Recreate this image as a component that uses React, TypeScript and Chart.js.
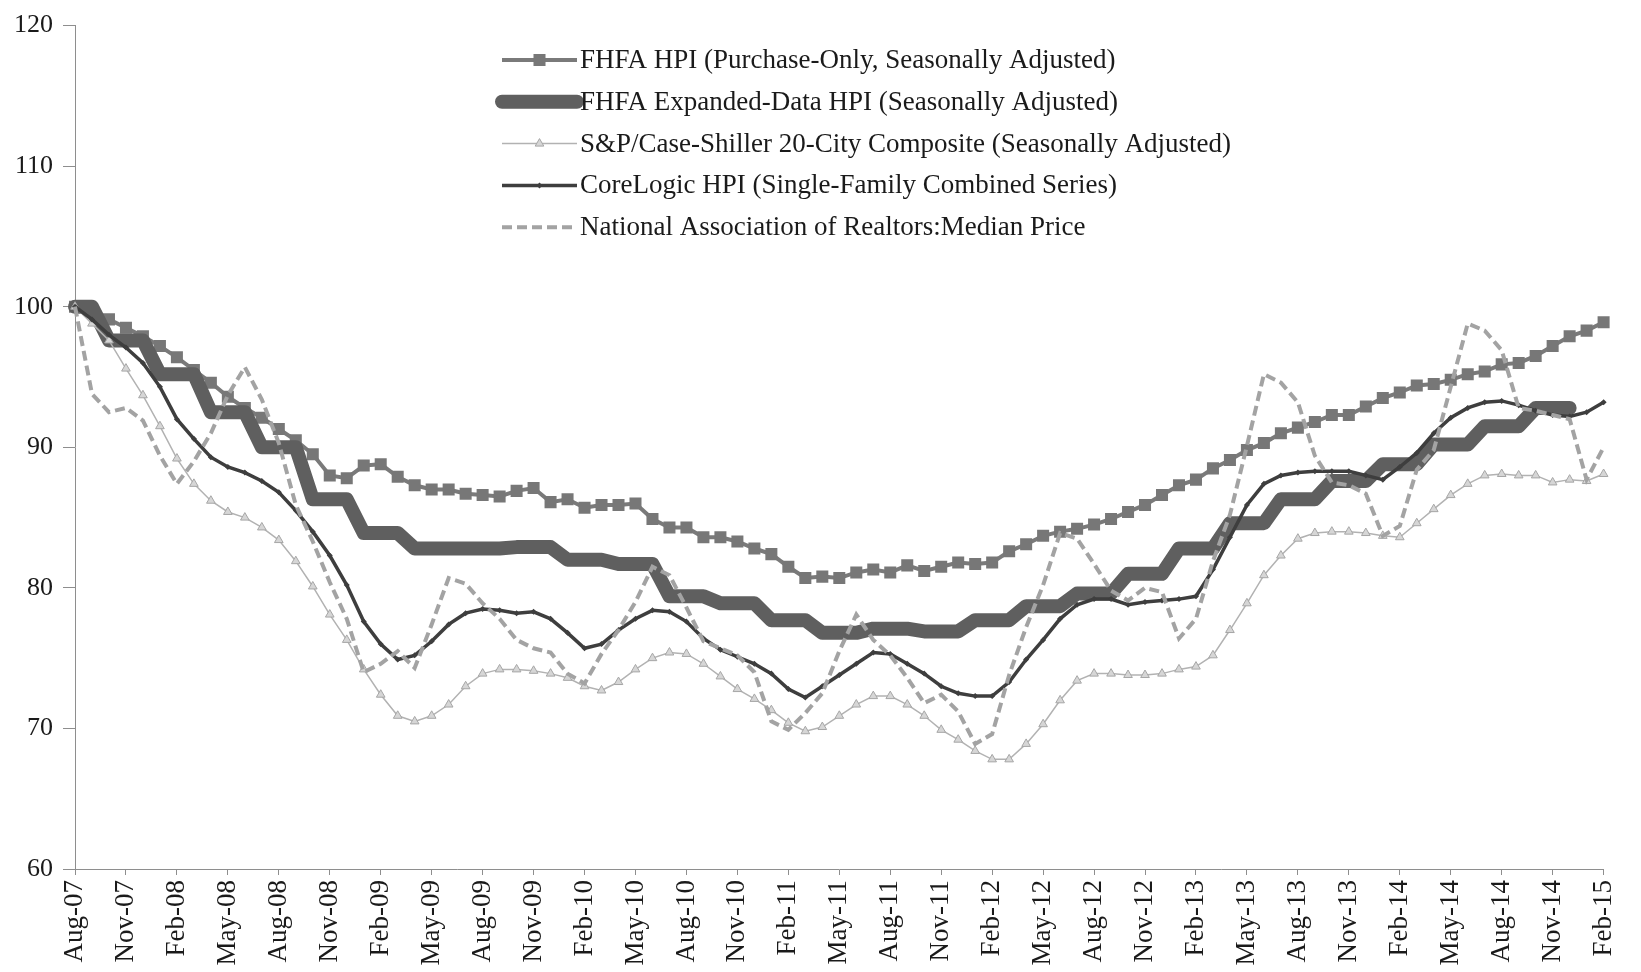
import React, { useEffect, useRef } from "react";
import { Chart, registerables } from "chart.js";

Chart.register(...registerables);

const months = [
  "Aug-07", "Sep-07", "Oct-07", "Nov-07", "Dec-07",
  "Jan-08", "Feb-08", "Mar-08", "Apr-08", "May-08", "Jun-08", "Jul-08", "Aug-08", "Sep-08", "Oct-08", "Nov-08", "Dec-08",
  "Jan-09", "Feb-09", "Mar-09", "Apr-09", "May-09", "Jun-09", "Jul-09", "Aug-09", "Sep-09", "Oct-09", "Nov-09", "Dec-09",
  "Jan-10", "Feb-10", "Mar-10", "Apr-10", "May-10", "Jun-10", "Jul-10", "Aug-10", "Sep-10", "Oct-10", "Nov-10", "Dec-10",
  "Jan-11", "Feb-11", "Mar-11", "Apr-11", "May-11", "Jun-11", "Jul-11", "Aug-11", "Sep-11", "Oct-11", "Nov-11", "Dec-11",
  "Jan-12", "Feb-12", "Mar-12", "Apr-12", "May-12", "Jun-12", "Jul-12", "Aug-12", "Sep-12", "Oct-12", "Nov-12", "Dec-12",
  "Jan-13", "Feb-13", "Mar-13", "Apr-13", "May-13", "Jun-13", "Jul-13", "Aug-13", "Sep-13", "Oct-13", "Nov-13", "Dec-13",
  "Jan-14", "Feb-14", "Mar-14", "Apr-14", "May-14", "Jun-14", "Jul-14", "Aug-14", "Sep-14", "Oct-14", "Nov-14", "Dec-14",
  "Jan-15", "Feb-15",
];

const fhfaPurchaseOnly = [
  100.0, 99.7, 99.1, 98.5, 97.9, 97.2, 96.4, 95.5, 94.6, 93.6,
  92.8, 92.1, 91.3, 90.5, 89.5, 88.0, 87.8, 88.7, 88.8, 87.9,
  87.3, 87.0, 87.0, 86.7, 86.6, 86.5, 86.9, 87.1, 86.1, 86.3,
  85.7, 85.9, 85.9, 86.0, 84.9, 84.3, 84.3, 83.6, 83.6, 83.3,
  82.8, 82.4, 81.5, 80.7, 80.8, 80.7, 81.1, 81.3, 81.1, 81.6,
  81.2, 81.5, 81.8, 81.7, 81.8, 82.6, 83.1, 83.7, 84.0, 84.2,
  84.5, 84.9, 85.4, 85.9, 86.6, 87.3, 87.7, 88.5, 89.1, 89.8,
  90.3, 91.0, 91.4, 91.8, 92.3, 92.3, 92.9, 93.5, 93.9, 94.4,
  94.5, 94.8, 95.2, 95.4, 95.9, 96.0, 96.5, 97.2, 97.9, 98.3,
  98.9,
];

const fhfaExpanded = [
  100.0, 100.0, 97.6, 97.6, 97.6, 95.2, 95.2, 95.2, 92.5, 92.5,
  92.5, 90.0, 90.0, 90.0, 86.3, 86.3, 86.3, 83.9, 83.9, 83.9,
  82.8, 82.8, 82.8, 82.8, 82.8, 82.8, 82.9, 82.9, 82.9, 82.0,
  82.0, 82.0, 81.7, 81.7, 81.7, 79.4, 79.4, 79.4, 78.9, 78.9,
  78.9, 77.7, 77.7, 77.7, 76.8, 76.8, 76.8, 77.1, 77.1, 77.1,
  76.9, 76.9, 76.9, 77.7, 77.7, 77.7, 78.7, 78.7, 78.7, 79.6,
  79.6, 79.6, 81.0, 81.0, 81.0, 82.8, 82.8, 82.8, 84.6, 84.6,
  84.6, 86.3, 86.3, 86.3, 87.6, 87.6, 87.6, 88.8, 88.8, 88.8,
  90.2, 90.2, 90.2, 91.5, 91.5, 91.5, 92.8, 92.8, 92.8, null,
  null,
];

const caseShiller20 = [
  100.0, 98.8, 97.6, 95.6, 93.7, 91.5, 89.2, 87.4, 86.2, 85.4,
  85.0, 84.3, 83.4, 81.9, 80.1, 78.1, 76.3, 74.2, 72.4, 70.9,
  70.5, 70.9, 71.7, 73.0, 73.9, 74.2, 74.2, 74.1, 73.9, 73.6,
  73.0, 72.7, 73.3, 74.2, 75.0, 75.4, 75.3, 74.6, 73.7, 72.8,
  72.1, 71.3, 70.4, 69.8, 70.1, 70.9, 71.7, 72.3, 72.3, 71.7,
  70.9, 69.9, 69.2, 68.4, 67.8, 67.8, 68.9, 70.3, 72.0, 73.4,
  73.9, 73.9, 73.8, 73.8, 73.9, 74.2, 74.4, 75.2, 77.0, 78.9,
  80.9, 82.3, 83.5, 83.9, 84.0, 84.0, 83.9, 83.7, 83.6, 84.6,
  85.6, 86.6, 87.4, 88.0, 88.1, 88.0, 88.0, 87.5, 87.7, 87.6,
  88.1,
];

const coreLogic = [
  100.0, 99.1, 98.0, 97.1, 96.0, 94.3, 92.0, 90.6, 89.3, 88.6,
  88.2, 87.6, 86.8, 85.5, 84.0, 82.3, 80.2, 77.6, 76.0, 74.9,
  75.2, 76.2, 77.4, 78.2, 78.5, 78.4, 78.2, 78.3, 77.8, 76.8,
  75.7, 76.0, 77.0, 77.8, 78.4, 78.3, 77.6, 76.4, 75.6, 75.1,
  74.6, 73.9, 72.8, 72.2, 73.0, 73.8, 74.6, 75.4, 75.3, 74.6,
  73.9, 73.0, 72.5, 72.3, 72.3, 73.3, 74.9, 76.3, 77.8, 78.8,
  79.2, 79.2, 78.8, 79.0, 79.1, 79.2, 79.4, 81.3, 83.6, 85.9,
  87.4, 88.0, 88.2, 88.3, 88.3, 88.3, 88.0, 87.7, 88.6, 89.6,
  91.0, 92.1, 92.8, 93.2, 93.3, 93.0, 92.6, 92.3, 92.2, 92.5,
  93.2,
];

const narMedian = [
  100.0, 93.8, 92.5, 92.8, 91.9, 89.4, 87.4, 89.0, 91.0, 93.7,
  95.7, 93.4, 90.3, 85.9, 83.3, 80.4, 77.8, 74.0, 74.6, 75.5,
  74.3, 77.4, 80.7, 80.3, 78.9, 77.8, 76.3, 75.7, 75.4, 73.9,
  73.2, 75.3, 77.0, 79.0, 81.5, 80.9, 78.6, 76.2, 75.7, 75.2,
  74.0, 70.5, 69.9, 71.1, 72.5, 75.5, 78.1, 76.3, 75.2, 73.6,
  71.8, 72.4, 71.2, 68.9, 69.6, 73.8, 77.2, 80.2, 83.9, 83.5,
  81.7, 79.8, 79.1, 80.0, 79.7, 76.4, 77.8, 81.9, 85.2, 90.1,
  95.2, 94.6, 93.2, 89.4, 87.5, 87.3, 86.7, 83.7, 84.4, 88.4,
  89.8, 94.3, 98.8, 98.3, 96.9, 92.8, 92.6, 92.3, 92.0, 87.7,
  90.0,
];

const seriesLabels = [
  "FHFA HPI (Purchase-Only, Seasonally Adjusted)",
  "FHFA Expanded-Data HPI (Seasonally Adjusted)",
  "S&P/Case-Shiller 20-City Composite (Seasonally Adjusted)",
  "CoreLogic HPI (Single-Family Combined Series)",
  "National Association of Realtors:Median Price",
];

const Y_MIN = 60;
const Y_MAX = 120;
const Y_STEP = 10;
const X_LABEL_EVERY = 3;

const FONT = '"Liberation Serif", "Times New Roman", Times, serif';
const AXIS_COLOR = "#8e8e8e";
const TEXT_COLOR = "#1a1a1a";

function drawMarker(ctx: CanvasRenderingContext2D, style: string, x: number, y: number, r: number) {
  ctx.beginPath();
  if (style === "rect") {
    const s = r * Math.SQRT1_2;
    ctx.rect(x - s, y - s, 2 * s, 2 * s);
  } else if (style === "triangle") {
    ctx.moveTo(x, y - r);
    ctx.lineTo(x + r * 0.866, y + r * 0.5);
    ctx.lineTo(x - r * 0.866, y + r * 0.5);
    ctx.closePath();
  } else if (style === "rectRot") {
    ctx.moveTo(x, y - r);
    ctx.lineTo(x + r, y);
    ctx.lineTo(x, y + r);
    ctx.lineTo(x - r, y);
    ctx.closePath();
  } else {
    ctx.arc(x, y, r, 0, Math.PI * 2);
  }
}

const legendPlugin = {
  id: "hpiLegend",
  afterDraw(chart: any, _args: any, opts: any) {
    const ctx: CanvasRenderingContext2D = chart.ctx;
    const { lineStart, lineEnd, textX, firstRowY, rowGap, fontSize } = opts;
    ctx.save();
    chart.data.datasets.forEach((ds: any, i: number) => {
      const y = firstRowY + i * rowGap;
      ctx.beginPath();
      ctx.setLineDash(ds.borderDash || []);
      ctx.lineCap = ds.borderCapStyle || "butt";
      ctx.strokeStyle = ds.borderColor;
      ctx.lineWidth = ds.borderWidth;
      ctx.moveTo(lineStart, y);
      ctx.lineTo(lineEnd, y);
      ctx.stroke();
      ctx.setLineDash([]);
      const r = ds.pointRadius || 0;
      if (r > 0) {
        drawMarker(ctx, ds.pointStyle, (lineStart + lineEnd) / 2, y, r);
        ctx.fillStyle = ds.pointBackgroundColor;
        ctx.fill();
        if (ds.pointBorderWidth) {
          ctx.lineWidth = ds.pointBorderWidth;
          ctx.strokeStyle = ds.pointBorderColor;
          ctx.stroke();
        }
      }
      ctx.fillStyle = TEXT_COLOR;
      ctx.font = `${fontSize}px ${FONT}`;
      ctx.textAlign = "left";
      ctx.textBaseline = "middle";
      ctx.fillText(ds.label, textX, y + 1);
    });
    ctx.restore();
  },
};

export default function App() {
  const canvasRef = useRef<HTMLCanvasElement | null>(null);

  useEffect(() => {
    document.body.style.margin = "0";
    const canvas = canvasRef.current;
    if (!canvas) return;

    const chart = new Chart(canvas, {
      type: "line",
      data: {
        labels: months,
        datasets: [
          {
            label: seriesLabels[0],
            data: fhfaPurchaseOnly,
            borderColor: "#7a7a7a",
            backgroundColor: "#7a7a7a",
            borderWidth: 4,
            pointStyle: "rect",
            pointRadius: 8.5,
            pointBackgroundColor: "#777777",
            pointBorderColor: "#6a6a6a",
            pointBorderWidth: 0,
            tension: 0,
            order: 5,
          },
          {
            label: seriesLabels[1],
            data: fhfaExpanded,
            borderColor: "#5f5f5f",
            backgroundColor: "#5f5f5f",
            borderWidth: 14,
            borderCapStyle: "round",
            borderJoinStyle: "round",
            pointRadius: 0,
            tension: 0,
            spanGaps: false,
            order: 4,
          },
          {
            label: seriesLabels[2],
            data: caseShiller20,
            borderColor: "#b2b2b2",
            backgroundColor: "#d2d2d2",
            borderWidth: 1.5,
            pointStyle: "triangle",
            pointRadius: 5,
            pointBackgroundColor: "#d6d6d6",
            pointBorderColor: "#a6a6a6",
            pointBorderWidth: 1,
            tension: 0,
            order: 3,
          },
          {
            label: seriesLabels[3],
            data: coreLogic,
            borderColor: "#3e3e3e",
            backgroundColor: "#3e3e3e",
            borderWidth: 3.5,
            pointStyle: "rectRot",
            pointRadius: 3,
            pointBackgroundColor: "#3e3e3e",
            pointBorderColor: "#3e3e3e",
            pointBorderWidth: 0,
            tension: 0,
            order: 2,
          },
          {
            label: seriesLabels[4],
            data: narMedian,
            borderColor: "#a3a3a3",
            backgroundColor: "#a3a3a3",
            borderWidth: 4,
            borderDash: [10, 5],
            pointRadius: 0,
            tension: 0,
            order: 1,
          },
        ],
      },
      options: {
        responsive: true,
        maintainAspectRatio: false,
        animation: false,
        devicePixelRatio: 1,
        events: [],
        layout: { padding: { top: 21, right: 21, bottom: 0, left: 0 } },
        plugins: {
          legend: { display: false },
          tooltip: { enabled: false },
          title: { display: false },
          hpiLegend: {
            lineStart: 502,
            lineEnd: 577,
            textX: 580,
            firstRowY: 60,
            rowGap: 41.8,
            fontSize: 27,
          },
        } as any,
        scales: {
          x: {
            type: "category",
            offset: false,
            grid: {
              display: true,
              drawOnChartArea: false,
              drawTicks: true,
              tickLength: 6,
              color: AXIS_COLOR,
              tickColor: (c: any) => (c.index % X_LABEL_EVERY === 0 ? AXIS_COLOR : "rgba(0,0,0,0)"),
            },
            border: { display: true, color: AXIS_COLOR, width: 1 },
            ticks: {
              autoSkip: false,
              maxRotation: 90,
              minRotation: 90,
              padding: 5,
              color: TEXT_COLOR,
              font: { family: FONT, size: 27 },
              callback: (_v: any, idx: number) => (idx % X_LABEL_EVERY === 0 ? months[idx] : ""),
            },
            afterFit: (scale: any) => {
              scale.height = 103;
            },
          },
          y: {
            min: Y_MIN,
            max: Y_MAX,
            grid: {
              display: true,
              drawOnChartArea: false,
              drawTicks: true,
              tickLength: 12,
              color: AXIS_COLOR,
            },
            border: { display: true, color: AXIS_COLOR, width: 1 },
            ticks: {
              stepSize: Y_STEP,
              padding: 10,
              color: TEXT_COLOR,
              font: { family: FONT, size: 26 },
            },
            afterFit: (scale: any) => {
              scale.width = 75;
            },
          },
        },
      } as any,
      plugins: [legendPlugin],
    });

    return () => {
      chart.destroy();
    };
  }, []);

  return (
    <div style={{ position: "relative", width: "1641px", height: "972px", background: "#ffffff" }}>
      <canvas ref={canvasRef} />
    </div>
  );
}
